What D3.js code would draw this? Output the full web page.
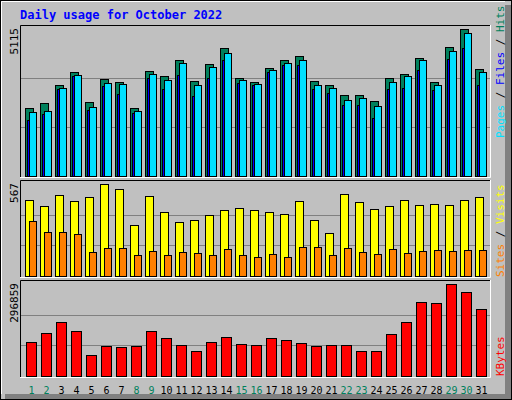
<!DOCTYPE html><html><head><meta charset="utf-8"><script src="https://cdn.jsdelivr.net/npm/d3@7"></script>
<style>body{margin:0;background:#fff}</style></head><body><script>
const days=d3.range(1,32);
const weekend=[1,2,8,9,15,16,22,23,29,30];
const hits=[2366,2540,3166,3619,2575,3375,3271,2366,3654,3480,4036,3306,3897,4454,3410,3271,3758,4036,4176,3306,3166,2818,2818,2610,3410,3549,4106,3271,4489,5115,3723];
const files=[1948,2157,3027,3480,2296,3132,2853,2192,3410,3027,3515,2784,3410,4036,3236,3166,3619,3862,3862,3027,2888,2470,2470,2018,3027,3062,3688,2992,4071,4454,3166];
const pages=[2210,2262,3062,3515,2401,3236,3201,2262,3549,3340,3932,3166,3793,4280,3340,3201,3688,3932,4036,3166,3062,2644,2714,2436,3271,3480,4036,3166,4350,4976,3619];
const visits=[468,431,499,462,487,567,536,314,493,394,333,345,376,407,419,407,394,382,462,345,265,505,456,413,431,468,438,444,438,468,487];
const sites=[339,271,271,259,148,173,173,129,154,129,148,142,129,166,129,117,136,117,179,179,129,173,148,136,166,142,154,160,154,160,160];
const kbytes=[108340,137592,173344,144092,69338,95339,92089,95339,144092,121341,98589,79088,108340,124591,101840,98589,121341,114840,105090,95339,98589,98589,79088,79088,134342,173344,238348,235098,296859,270850,215597];
const title="Daily usage for October 2022";
const W=512,H=400,svg=d3.select("body").append("svg").attr("width",W).attr("height",H);
const font="'DejaVu Sans Mono',monospace";
svg.append("rect").attr("x",0.5).attr("y",0.5).attr("width",511).attr("height",399).attr("fill","#c0c0c0").attr("stroke","#000");
svg.append("rect").attr("x",505).attr("y",5).attr("width",6).attr("height",394).attr("fill","#808080");
svg.append("rect").attr("x",5).attr("y",394).attr("width",506).attr("height",5).attr("fill","#808080");
svg.append("path").attr("d","M1.5,394V1.5H505").attr("stroke","#fff").attr("fill","none");
svg.append("text").attr("x",20).attr("y",19).attr("fill","#0000ff").attr("font-family",font).attr("font-weight","bold").attr("font-size",12).text(title);
const x=d3.scaleBand().domain(days).range([25,490]);
function panel(top,bot,max,label){
  svg.append("path").attr("d",`M20.5,${bot}V${top+0.5}H490.5`).attr("stroke","#000").attr("fill","none");
  svg.append("path").attr("d",`M490.5,${top}V${bot+0.5}H20`).attr("stroke","#fff").attr("fill","none");
  const y=d3.scaleLinear().domain([0,max]).range([bot-1,top+4]);
  [max/3,2*max/3].forEach(v=>svg.append("line").attr("x1",21).attr("x2",490).attr("y1",Math.round(y(v))+0.5).attr("y2",Math.round(y(v))+0.5).attr("stroke","#808080"));
  svg.append("text").attr("transform",`translate(18,${top+3}) rotate(-90)`).attr("text-anchor","end").attr("font-family",font).attr("font-size",11).attr("fill","#000").text(label);
  return y;
}
function bars(y,data,dx,w,col){
  svg.append("g").selectAll("rect").data(days).join("rect")
   .attr("x",d=>x(d)+dx+0.5).attr("y",(d,i)=>Math.round(y(data[i]))+0.5).attr("width",w)
   .attr("height",(d,i)=>y(0)-Math.round(y(data[i]))).attr("fill",col).attr("stroke","#000");
}
const y1=panel(25,177,5115,"5115");
bars(y1,hits,0,8,"#00805c");bars(y1,files,2,8,"#0000ff");bars(y1,pages,4,7,"#00e0ff");
const y2=panel(180,277,567,"567");
bars(y2,visits,0,8,"#ffff00");bars(y2,sites,4,7,"#ff8000");
const y3=panel(280,377,296859,"296859");
bars(y3,kbytes,1,10,"#ff0000");
function rlabel(yEnd,parts){
  const t=svg.append("text").attr("transform",`translate(504,${yEnd}) rotate(-90)`).attr("font-family",font).attr("font-size",11);
  parts.forEach(p=>t.append("tspan").attr("fill",p[1]).text(p[0]));
}
rlabel(138,[["Pages","#00e0ff"],[" / ","#000"],["Files","#0000ff"],[" / ","#000"],["Hits","#00805c"]]);
rlabel(277,[["Sites","#ff8000"],[" / ","#000"],["Visits","#ffff00"]]);
rlabel(376,[["KBytes","#ff0000"]]);
svg.append("g").selectAll("text").data(days).join("text").attr("x",d=>x(d)+x.bandwidth()/2-1).attr("y",394)
 .attr("text-anchor","middle").attr("font-family",font).attr("font-size",10)
 .attr("fill",d=>weekend.includes(d)?"#00805c":"#000").text(d=>d);
</script></body></html>
